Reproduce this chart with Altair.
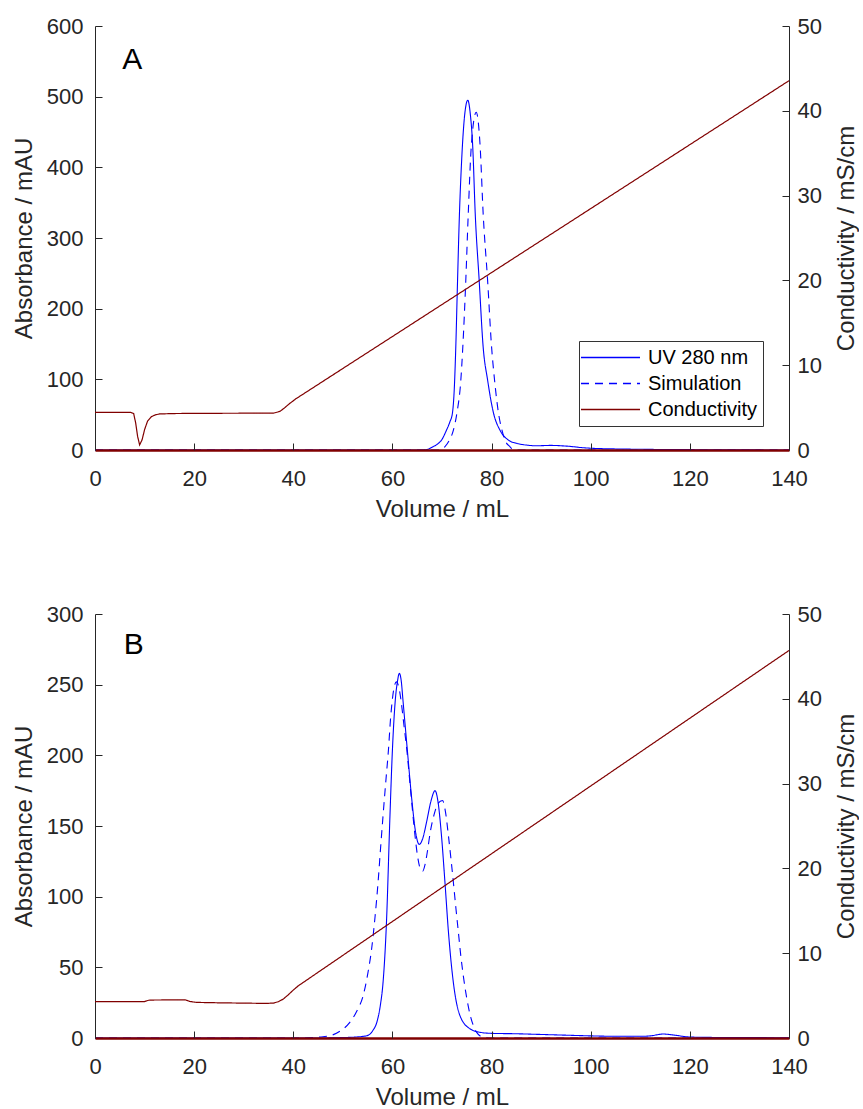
import altair as alt
import pandas as pd

# ---------------- Panel A data ----------------
uvA_vol = [0, 66, 67, 68.2, 69.2, 69.9, 70.9, 71.6, 72.1, 72.5, 72.8, 73.1, 73.5, 74.0, 74.6, 75.2,
           75.7, 76.2, 76.7, 77.5, 78.3, 79.2, 80.4, 81.7, 83.4, 85.1, 87, 89, 92, 94, 96, 98, 100,
           105, 110, 120, 130, 140]
uvA_abs = [0, 0, 0.8, 4.7, 9, 14, 28, 40, 52, 90, 150, 230, 330, 415, 476, 495,
           476, 429, 335, 240, 146, 99, 52, 28, 14, 9.4, 7, 6, 6.5, 6, 5, 3.5, 2.5,
           1.5, 1, 0.5, 0.2, 0]

simA_vol = [0, 69.5, 70.6, 71.5, 72.3, 73.0, 73.8, 74.2, 74.8, 75.3, 75.9, 76.9, 77.7, 78.3, 79.2,
            80.0, 80.6, 81.4, 82.1, 82.7, 83.7, 84.5, 85.5, 140]
simA_abs = [0, 0, 4.7, 14, 28, 52, 99, 146, 240, 335, 429, 478, 429, 335, 240,
            146, 99, 52, 28, 14, 4.7, 0.5, 0, 0]

condA_vol = [0, 7.2, 7.8, 8.2, 8.6, 9.0, 9.5, 10.0, 10.6, 11.35, 12.2, 13, 16, 20, 36, 37.3,
             38.2, 39.2, 40.5, 140]
condA_val = [4.44, 4.44, 4.3, 3.2, 1.6, 0.6, 1.2, 2.4, 3.4, 3.92, 4.15, 4.25, 4.3, 4.32, 4.35, 4.55,
             4.95, 5.45, 6.03, 43.55]

# ---------------- Panel B data ----------------
uvB_vol = [0, 45, 50, 53, 54.8, 56, 57, 57.6, 58.1, 58.8, 59.5, 60.0, 60.6, 61.0, 61.4, 61.8, 62.1,
           63.0, 63.9, 64.7, 65.4, 66.1, 66.9, 67.8, 68.6, 69.2, 69.9, 70.6, 71.3, 72.3, 73.6,
           75.7, 77.7, 80, 85, 90, 95, 100, 105, 110, 112, 114.6, 117, 119, 122, 130, 140]
uvB_abs = [0, 0, 0.3, 0.8, 1.6, 5, 13, 24, 39, 82, 157, 204, 240, 252, 258, 252, 240,
           204, 169, 145, 137, 141, 153, 168, 175, 167, 143, 110, 75, 39, 16,
           6.4, 4.0, 3.3, 3, 2.5, 2, 1.5, 1.2, 1.2, 1.5, 2.8, 2.0, 1, 0.5, 0.3, 0.2]

simB_vol = [0, 42, 44, 46, 47.4, 49.5, 51.4, 52.8, 54.1, 55.0, 55.8, 56.5, 57.1, 57.6, 58.1, 58.7,
            59.2, 59.6, 60.0, 60.4, 60.8, 61.3, 61.8, 62.3, 62.9, 63.7, 64.5, 65.1, 65.6, 66.1,
            66.6, 67.1, 67.6, 68.4, 69.2, 70.1, 70.7, 71.3, 71.8, 72.3, 72.8, 73.3, 73.8, 74.3,
            75.0, 75.7, 76.3, 77.0, 78.3, 80, 140]
simB_abs = [0, 0, 0.3, 0.9, 1.6, 5, 11, 19, 30, 45, 63, 86, 110, 134, 157, 183,
            204, 225, 240, 249, 252, 248, 237, 222, 204, 174, 145, 128, 120, 118,
            123, 133, 145, 158, 166, 168, 160, 143, 127, 110, 92, 75, 58, 44,
            28, 16, 9, 4, 0.5, 0, 0]

condB_vol = [0, 10, 10.8, 12, 18.2, 19.2, 20.5, 25, 34.6, 36, 37, 38, 39, 40, 41, 140]
condB_val = [4.3, 4.3, 4.45, 4.48, 4.5, 4.3, 4.2, 4.15, 4.08, 4.12, 4.28, 4.6, 5.1, 5.65, 6.15, 45.7]

SERIES = ["UV 280 nm", "Simulation", "Conductivity"]

W, H = 694, 424
BLUE = "#0000ff"
RED = "#800000"
TXT = "#262626"
FONT = "Liberation Sans"


def panel(uv_v, uv_a, sim_v, sim_a, cond_v, cond_c, ymax, ystep, letter, lx, ly, show_legend):
    uv = pd.DataFrame({"vol": uv_v, "val": uv_a, "series": SERIES[0]})
    sim = pd.DataFrame({"vol": sim_v, "val": sim_a, "series": SERIES[1]})
    cond = pd.DataFrame({"vol": cond_v, "val": cond_c, "series": SERIES[2]})
    lab = pd.DataFrame({"vol": [lx], "val": [ly], "t": [letter]})

    xscale = alt.Scale(domain=[0, 140], nice=False, zero=False)
    yscale = alt.Scale(domain=[0, ymax], nice=False)
    cscale = alt.Scale(domain=[0, 50], nice=False)
    xvals = list(range(0, 141, 20))
    yvals = list(range(0, ymax + 1, ystep))
    cvals = list(range(0, 51, 10))

    if show_legend:
        leg = alt.Legend(orient="none", legendX=484, legendY=315, symbolType="M-3,0H3",
                         symbolSize=387, symbolStrokeWidth=1.3, symbolOffset=15,
                         labelFontSize=20, labelFont=FONT, labelColor="#000000", labelOffset=27,
                         strokeColor="#333333", fillColor="white", padding=6,
                         rowPadding=5)
    else:
        leg = None
    color = alt.Color("series:N", scale=alt.Scale(domain=SERIES, range=[BLUE, BLUE, RED]),
                      legend=leg, title=None)
    dash = alt.StrokeDash("series:N", scale=alt.Scale(domain=SERIES, range=[[1, 0], [8, 6], [1, 0]]),
                          legend=leg, title=None)

    x_main = alt.X("vol:Q", scale=xscale, title="Volume / mL",
                   axis=alt.Axis(orient="bottom", values=xvals, ticks=False, domainColor=RED,
                                 domainWidth=2.5, labelPadding=18, titlePadding=8, zindex=1,
                                 labelFlush=False))
    x_tick = alt.X("vol:Q", scale=xscale, title=None,
                   axis=alt.Axis(orient="top", offset=-H, values=xvals, labels=False, domain=False,
                                 tickSize=7, tickColor=TXT, zindex=1))
    x_none = alt.X("vol:Q", scale=xscale, axis=None)

    y_main = alt.Y("val:Q", scale=yscale, title="Absorbance / mAU",
                   axis=alt.Axis(orient="left", values=yvals, ticks=False, domainColor=TXT,
                                 labelPadding=12, titlePadding=10))
    y_tick = alt.Y("val:Q", scale=yscale, title=None,
                   axis=alt.Axis(orient="right", offset=-W, values=yvals, labels=False, domain=False,
                                 tickSize=7, tickColor=TXT))
    y_none = alt.Y("val:Q", scale=yscale, axis=None)

    c_main = alt.Y("val:Q", scale=cscale, title="Conductivity / mS/cm",
                   axis=alt.Axis(orient="right", values=cvals, ticks=False, domainColor=TXT,
                                 labelPadding=8, titlePadding=37, titleAngle=270))
    c_tick = alt.Y("val:Q", scale=cscale, title=None,
                   axis=alt.Axis(orient="left", offset=-W, values=cvals, labels=False, domain=False,
                                 tickSize=7, tickColor=TXT))

    l_uv = alt.Chart(uv).mark_line(strokeWidth=1.1, interpolate="monotone").encode(
        x=x_main, y=y_main, color=color, strokeDash=dash)
    l_sim = alt.Chart(sim).mark_line(strokeWidth=1.1, interpolate="monotone").encode(
        x=x_tick, y=y_tick, color=color, strokeDash=dash)
    l_txt = alt.Chart(lab).mark_text(fontSize=30, font=FONT, color="#000000", align="center",
                                     baseline="middle").encode(x=x_none, y=y_none, text="t:N")
    l_cond = alt.Chart(cond).mark_line(strokeWidth=1.2).encode(
        x=x_none, y=c_main, color=color, strokeDash=dash)
    l_cond_t = alt.Chart(cond).mark_line(strokeOpacity=0).encode(x=x_none, y=c_tick)

    left = alt.layer(l_uv, l_sim, l_txt)
    right = alt.layer(l_cond, l_cond_t)
    return alt.layer(left, right).resolve_scale(y="independent").properties(width=W, height=H)


pA = panel(uvA_vol, uvA_abs, simA_vol, simA_abs, condA_vol, condA_val, 600, 100, "A", 7.5, 552, True)
pB = panel(uvB_vol, uvB_abs, simB_vol, simB_abs, condB_vol, condB_val, 300, 50, "B", 7.8, 278, False)

chart = alt.vconcat(pA, pB, spacing=82).resolve_scale(
    color="independent", strokeDash="independent"
).resolve_legend(color="independent", strokeDash="independent").properties(
    padding={"left": 12, "top": 15, "right": 0, "bottom": 0}, background="white"
).configure_view(stroke=None).configure_axis(
    grid=False, labelFont=FONT, titleFont=FONT, labelFontSize=22, titleFontSize=24,
    labelColor=TXT, titleColor=TXT, titleFontWeight="normal"
)

chart.save("out.html", embed_options={"renderer": "svg", "actions": False})
